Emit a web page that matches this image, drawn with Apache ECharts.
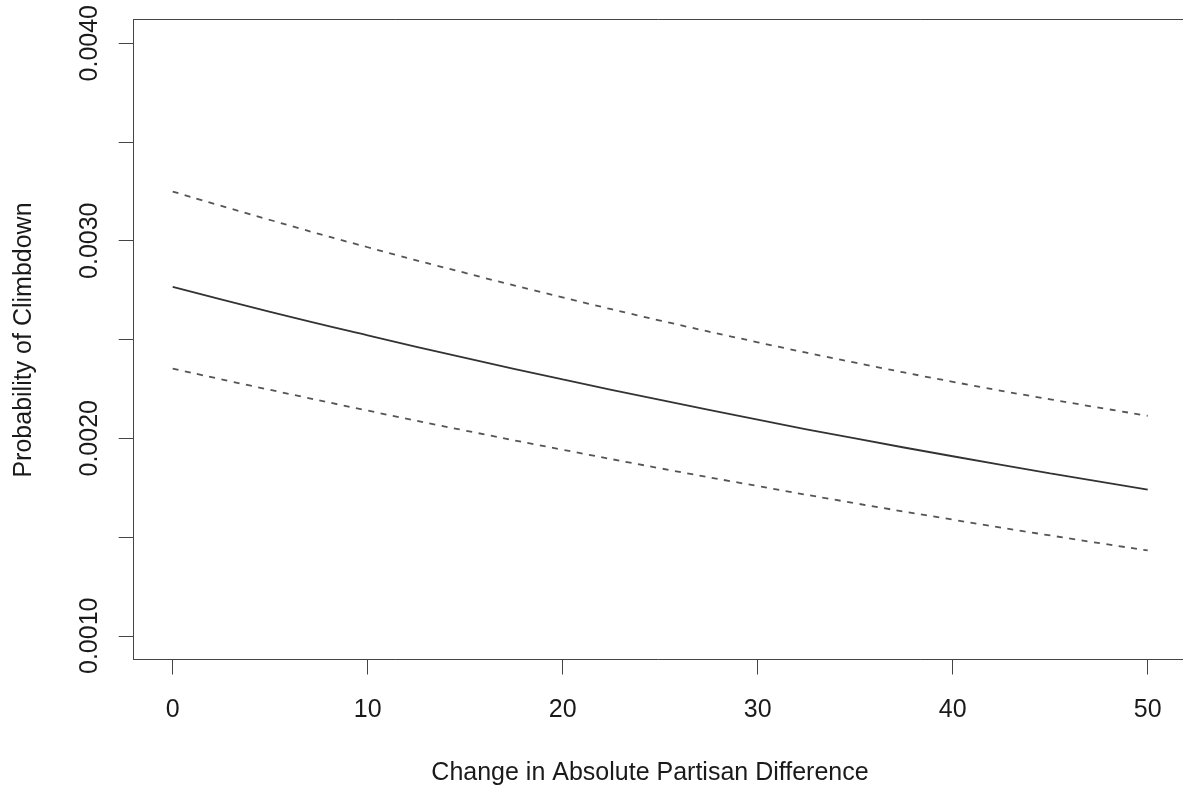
<!DOCTYPE html>
<html>
<head>
<meta charset="utf-8">
<script src="https://cdn.jsdelivr.net/npm/echarts@6/dist/echarts.min.js"></script>
<style>
html,body{margin:0;padding:0;background:#fff;}
#chart{width:1183px;height:790px;}
</style>
</head>
<body>
<div id="chart"></div>
<script>
// Data
var xValues = [0, 5, 10, 15, 20, 25, 30, 35, 40, 45, 50];
var estimate = [0.002766, 0.002640, 0.002521, 0.002407, 0.002298, 0.002194, 0.002094, 0.001999, 0.001909, 0.001822, 0.001740];
var upperCI  = [0.003249, 0.003105, 0.002967, 0.002837, 0.002713, 0.002596, 0.002486, 0.002383, 0.002286, 0.002197, 0.002114];
var lowerCI  = [0.002352, 0.002245, 0.002140, 0.002039, 0.001942, 0.001848, 0.001758, 0.001671, 0.001588, 0.001508, 0.001432];
var xTicks = [0, 10, 20, 30, 40, 50];
var yTicks = [0.0010, 0.0015, 0.0020, 0.0025, 0.0030, 0.0035, 0.0040];
var yTickLabels = [0.0010, 0.0020, 0.0030, 0.0040];
var xTitle = 'Change in Absolute Partisan Difference';
var yTitle = 'Probability of Climbdown';

function pairs(ys) { return xValues.map(function (x, i) { return [x, ys[i]]; }); }

var FONT = "'Liberation Sans', Arial, Helvetica, sans-serif";
var FRAME = {show: true, onZero: false, lineStyle: {color: '#444', width: 1}};
var chart = echarts.init(document.getElementById('chart'), null, {renderer: 'canvas'});
chart.setOption({
  animation: false,
  backgroundColor: '#fff',
  grid: {left: 133.7, top: 19.5, right: 0, bottom: 130.5, show: false},
  xAxis: [{
    type: 'value', min: -2, max: 51.81, position: 'bottom',
    axisLine: FRAME,
    splitLine: {show: false},
    axisTick: {show: true, customValues: xTicks, length: 15, lineStyle: {color: '#444', width: 1}},
    axisLabel: {customValues: xTicks, fontFamily: FONT, fontSize: 25, color: '#1a1a1a', margin: 38}
  }, {
    type: 'value', min: -2, max: 51.81, position: 'top',
    axisLine: FRAME, axisTick: {show: false}, axisLabel: {show: false}, splitLine: {show: false}
  }],
  yAxis: {
    type: 'value', min: 0.00088, max: 0.00412,
    axisLine: FRAME,
    splitLine: {show: false},
    axisTick: {show: true, customValues: yTicks, length: 15, lineStyle: {color: '#444', width: 1}},
    axisLabel: {
      customValues: yTickLabels, rotate: 90, fontFamily: FONT, fontSize: 25, color: '#1a1a1a', margin: 31,
      formatter: function (v) { return Number(v).toFixed(4); }
    }
  },
  series: [
    {type: 'line', data: pairs(upperCI), smooth: true, symbol: 'none',
     lineStyle: {color: '#555', width: 1.8, type: [6, 6.5]}},
    {type: 'line', data: pairs(estimate), smooth: true, symbol: 'none',
     lineStyle: {color: '#333', width: 1.8, type: 'solid'}},
    {type: 'line', data: pairs(lowerCI), smooth: true, symbol: 'none',
     lineStyle: {color: '#555', width: 1.8, type: [6, 6.5]}}
  ],
  graphic: [
    {type: 'text', x: 650, y: 773, style: {text: xTitle, font: '25px ' + FONT, fill: '#1a1a1a', textAlign: 'center', textVerticalAlign: 'middle'}},
    {type: 'text', x: 24, y: 340, rotation: Math.PI / 2, style: {text: yTitle, font: '25px ' + FONT, fill: '#1a1a1a', textAlign: 'center', textVerticalAlign: 'middle'}}
  ]
});
</script>
</body>
</html>
